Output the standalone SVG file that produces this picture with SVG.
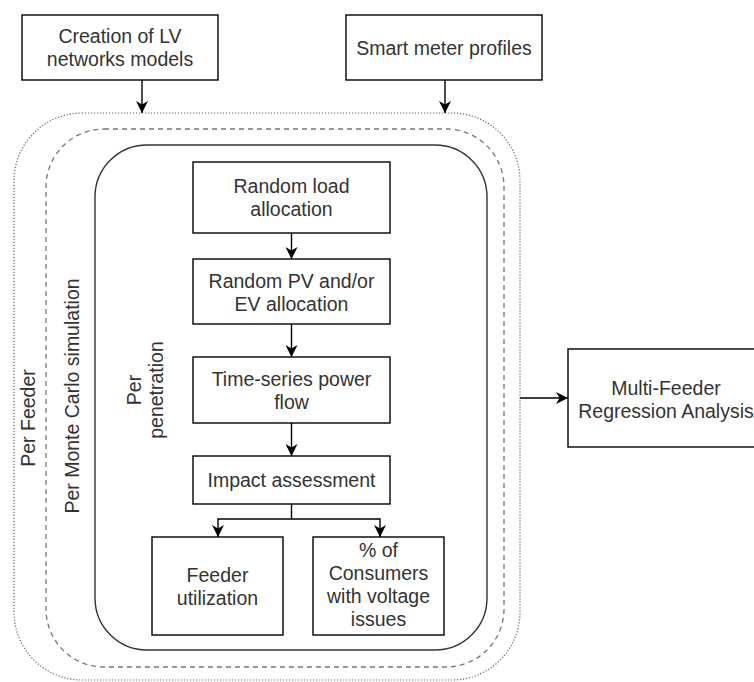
<svg xmlns="http://www.w3.org/2000/svg" width="754" height="682" viewBox="0 0 754 682">
<style>
.box{fill:#fff;stroke:#000;stroke-width:1.4}
.t{font-family:"Liberation Sans",Arial,sans-serif;font-size:19.5px;fill:#333;text-anchor:middle}
.c{fill:none;stroke:#000;stroke-width:1.4}
</style>
<defs>
<marker id="ah" markerUnits="userSpaceOnUse" markerWidth="12" markerHeight="12" refX="10" refY="5" orient="auto" viewBox="0 0 10 10">
<path d="M0,0 L10,5 L0,10 L3,5 z" fill="#000"/>
</marker>
</defs>
<rect width="754" height="682" fill="#fff"/>
<g id="containers">
<rect id="per-feeder" x="14" y="113" width="506" height="567" rx="68" ry="68" fill="none" stroke="#666" stroke-width="1.2" stroke-dasharray="1.2 1.8"/>
<rect id="per-mc" x="46" y="129" width="458" height="538" rx="58" ry="58" fill="none" stroke="#777" stroke-width="1.3" stroke-dasharray="5 4"/>
<rect id="per-pen" x="95" y="145" width="392" height="505" rx="52" ry="52" fill="none" stroke="#333" stroke-width="1.4"/>
<text class="t" transform="translate(35,418) rotate(-90)">Per Feeder</text>
<text class="t" transform="translate(79,396) rotate(-90)">Per Monte Carlo simulation</text>
<text class="t" transform="translate(141,390) rotate(-90)"><tspan x="0" y="0">Per</tspan><tspan x="0" y="22">penetration</tspan></text>
</g>
<g id="n-creation">
<rect class="box" x="22" y="15" width="196" height="65"/>
<text class="t"><tspan x="120" y="43">Creation of LV</tspan><tspan x="120" y="66">networks models</tspan></text>
</g>
<g id="n-smart">
<rect class="box" x="346" y="15" width="196" height="65"/>
<text class="t" x="444" y="55">Smart meter profiles</text>
</g>
<g id="n-load">
<rect class="box" x="193" y="162" width="197" height="71"/>
<text class="t"><tspan x="291.5" y="193">Random load</tspan><tspan x="291.5" y="216">allocation</tspan></text>
</g>
<g id="n-pv">
<rect class="box" x="193" y="259" width="197" height="65"/>
<text class="t"><tspan x="291.5" y="287.5">Random PV and/or</tspan><tspan x="291.5" y="310.5">EV allocation</tspan></text>
</g>
<g id="n-ts">
<rect class="box" x="193" y="357" width="197" height="66"/>
<text class="t"><tspan x="291.5" y="386">Time-series power</tspan><tspan x="291.5" y="409">flow</tspan></text>
</g>
<g id="n-impact">
<rect class="box" x="193" y="456" width="197" height="48"/>
<text class="t" x="291.5" y="487">Impact assessment</text>
</g>
<g id="n-feeder">
<rect class="box" x="152" y="537" width="131" height="98"/>
<text class="t"><tspan x="217.5" y="581.5">Feeder</tspan><tspan x="217.5" y="604.5">utilization</tspan></text>
</g>
<g id="n-consumers">
<rect class="box" x="313" y="537" width="131" height="98"/>
<text class="t"><tspan x="378.5" y="557">% of</tspan><tspan x="378.5" y="580">Consumers</tspan><tspan x="378.5" y="603">with voltage</tspan><tspan x="378.5" y="626">issues</tspan></text>
</g>
<g id="n-multi">
<rect class="box" x="568" y="349" width="200" height="98"/>
<text class="t"><tspan x="666" y="394.5">Multi-Feeder</tspan><tspan x="666" y="417.5">Regression Analysis</tspan></text>
</g>
<g id="connectors">
<path class="c" d="M142,80 V113" marker-end="url(#ah)"/>
<path class="c" d="M445,80 V113" marker-end="url(#ah)"/>
<path class="c" d="M291.5,233 V259" marker-end="url(#ah)"/>
<path class="c" d="M291.5,324 V357" marker-end="url(#ah)"/>
<path class="c" d="M291.5,423 V456" marker-end="url(#ah)"/>
<path class="c" d="M291.5,504 V519 H218 V537" marker-end="url(#ah)"/>
<path class="c" d="M291.5,519 H380 V537" marker-end="url(#ah)"/>
<path class="c" d="M520,398 H568" marker-end="url(#ah)"/>
</g>
</svg>
